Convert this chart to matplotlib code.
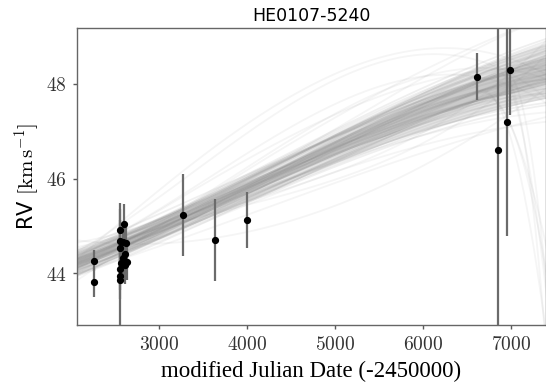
"""
RV orbit fit for HE0107-5240: data with error bars over posterior model draws.
"""

import numpy as np
import matplotlib
matplotlib.use("Agg")
import matplotlib.pyplot as plt
from matplotlib.ticker import FuncFormatter

# ---------------------------------------------------------------------------
# Data
# ---------------------------------------------------------------------------
MJD = [2262, 2262,
       2549, 2602, 2549, 2584, 2621, 2549, 2614, 2584, 2630, 2564, 2614,
       2555, 2549, 2557,
       3273, 3636, 3997,
       6618, 6857, 6955, 6989]
RV = [44.27, 43.81,
      44.91, 45.05, 44.68, 44.66, 44.64, 44.53, 44.41, 44.32, 44.25, 44.22,
      44.17, 44.10, 43.94, 43.86,
      45.23, 44.70, 45.13,
      48.15, 46.60, 47.19, 48.29]
RV_ERR = [0.23, 0.30,
          0.45, 0.41, 0.45, 0.42, 0.40, 0.45, 0.40, 0.42, 0.40, 0.42,
          0.40, 0.45, 1.55, 0.40,
          0.87, 0.86, 0.59,
          0.50, 4.00, 2.40, 0.94]

# Posterior model draws (main band): RV at four reference dates per draw
DRAW_DATES = [2060, 3800, 5600, 7400]
CORE_RV_2060 = [44.22, 43.97, 44.47, 44.32, 44.12, 44.42, 44.02, 44.27, 44.17, 44.37,
                44.07, 44.22, 44.22, 44.50, 43.94, 44.34, 44.10, 44.30, 44.14, 44.40,
                44.04, 44.25, 44.19, 44.44, 44.00, 44.28, 44.16, 44.36, 44.08, 44.24,
                44.20, 44.48, 43.96, 44.31, 44.13, 44.38, 44.06, 44.26, 44.18, 44.32]
CORE_RV_3800 = [45.62, 45.47, 45.77, 45.87, 45.37, 45.67, 45.62, 45.72, 45.52, 45.82,
                45.42, 45.77, 45.47, 45.92, 45.32, 45.57, 45.67, 45.80, 45.44, 45.74,
                45.54, 45.67, 45.57, 45.84, 45.40, 45.60, 45.64, 45.90, 45.34, 45.70,
                45.54, 45.72, 45.57, 45.62, 45.62, 45.86, 45.38, 45.76, 45.48, 45.67]
CORE_RV_5600 = [47.12, 47.17, 47.07, 47.52, 46.72, 46.92, 47.42, 47.27, 46.97, 47.37,
                46.92, 47.47, 46.77, 47.32, 46.87, 47.02, 47.22, 47.42, 46.82, 47.17,
                47.22, 47.22, 47.02, 47.42, 46.87, 47.07, 47.17, 47.57, 46.67, 47.32,
                46.92, 47.02, 47.32, 47.17, 47.07, 47.47, 46.77, 47.37, 46.87, 47.12]
CORE_RV_7400 = [48.25, 48.55, 47.95, 48.80, 47.70, 47.80, 48.85, 48.45, 48.05, 48.35,
                48.20, 48.90, 47.60, 48.30, 48.15, 48.40, 48.10, 48.65, 47.85, 48.10,
                48.60, 48.70, 47.80, 48.55, 47.90, 48.30, 48.20, 48.95, 47.55, 48.50,
                48.00, 48.05, 48.70, 48.60, 47.90, 48.75, 47.75, 48.40, 48.10, 48.20]

# Posterior model draws (faint outliers), same reference dates
WISP_RV_2060 = [44.55, 43.85, 44.65, 43.95, 44.70, 44.00, 44.30, 44.20, 44.40, 44.10,
                44.35, 44.30, 44.45]
WISP_RV_3800 = [45.55, 45.95, 45.80, 45.30, 44.80, 45.10, 46.20, 46.00, 46.30, 45.40,
                45.35, 46.90, 46.70]
WISP_RV_5600 = [46.70, 47.90, 47.70, 46.50, 45.90, 46.30, 47.80, 47.90, 48.00, 46.60,
                46.40, 48.60, 48.50]
WISP_RV_7400 = [47.40, 49.40, 49.40, 47.20, 47.90, 47.30, 48.30, 48.10, 47.60, 48.90,
                48.60, 48.20, 47.70]

# Draws that turn over near the end of the baseline:
# a band-like curve that starts to fall at TURN_START and has dropped
# by TURN_DROP at the last reference date
TURN_RV_2060 = [44.22, 44.30, 44.17, 44.27, 44.10, 44.37]
TURN_RV_3800 = [45.62, 45.80, 45.52, 45.72, 45.67, 45.82]
TURN_RV_5600 = [47.12, 47.42, 46.97, 47.27, 47.22, 47.37]
TURN_RV_7400 = [48.25, 48.65, 48.05, 48.45, 48.10, 48.35]
TURN_START = [6650, 6800, 6700, 6900, 6600, 6950]
TURN_DROP = [5.5, 5.0, 4.0, 6.0, 3.5, 4.5]

TITLE = "HE0107-5240"

plt.rcParams["mathtext.fontset"] = "cm"


def cubic_through(dates, values, t):
    coef = np.polyfit(np.array(dates, dtype=float) - 4700.0, values, 3)
    return np.polyval(coef, t - 4700.0)


def main():
    fig = plt.figure(figsize=(5.46, 3.86), dpi=100)
    ax = fig.add_axes([0.1405, 0.158, 0.8595, 0.7695])

    t_grid = np.linspace(2000, 7500, 300)

    core = np.array([
        cubic_through(DRAW_DATES, vals, t_grid)
        for vals in zip(CORE_RV_2060, CORE_RV_3800, CORE_RV_5600, CORE_RV_7400)
    ])
    wisps = np.array([
        cubic_through(DRAW_DATES, vals, t_grid)
        for vals in zip(WISP_RV_2060, WISP_RV_3800, WISP_RV_5600, WISP_RV_7400)
    ])
    turns = []
    for vals, t0, drop in zip(zip(TURN_RV_2060, TURN_RV_3800, TURN_RV_5600, TURN_RV_7400),
                              TURN_START, TURN_DROP):
        curve = cubic_through(DRAW_DATES, vals, t_grid)
        frac = np.clip((t_grid - t0) / (DRAW_DATES[-1] - t0), 0, None)
        turns.append(curve - drop * frac ** 2)
    turns = np.array(turns)

    # shading for the dense part of the posterior
    lo, hi = np.percentile(core, [5, 95], axis=0)
    ax.fill_between(t_grid, lo, hi, color="0.6", alpha=0.25, lw=0, zorder=1)
    lo, hi = np.percentile(core, [25, 75], axis=0)
    ax.fill_between(t_grid, lo, hi, color="0.6", alpha=0.35, lw=0, zorder=1)

    for curve in core:
        ax.plot(t_grid, curve, color="0.5", alpha=0.12, lw=1.3, zorder=1)
    for curve in np.vstack([wisps, turns]):
        ax.plot(t_grid, curve, color="0.5", alpha=0.08, lw=1.3, zorder=1)

    # measurements
    ax.errorbar(MJD, RV, yerr=RV_ERR, fmt="o", color="black", ms=4.2,
                ecolor="0.42", elinewidth=1.6, capsize=0, zorder=3)

    ax.set_xlim(2060, 7400)
    ax.set_ylim(42.91, 49.18)
    ax.set_xticks([3000, 4000, 5000, 6000, 7000])
    ax.set_yticks([44, 46, 48])
    fmt = FuncFormatter(lambda v, pos: r"$%d$" % v)
    ax.xaxis.set_major_formatter(fmt)
    ax.yaxis.set_major_formatter(fmt)
    ax.tick_params(labelsize=14, length=3, width=1, color="0.35", pad=4,
                   labelcolor="0.2")

    for side in ["top", "right", "left", "bottom"]:
        ax.spines[side].set_color("0.4")
        ax.spines[side].set_linewidth(1.0)

    ax.set_xlabel("modified Julian Date (-2450000)", fontsize=16.5,
                  family="Liberation Serif", labelpad=5)
    ax.set_ylabel(r"RV $[\mathrm{km\,s^{-1}}]$", fontsize=15, labelpad=3)
    ax.set_title(TITLE, fontsize=12.5, pad=5)

    fig.savefig("out.png", dpi=100, facecolor="white")
    plt.close(fig)


if __name__ == "__main__":
    main()
